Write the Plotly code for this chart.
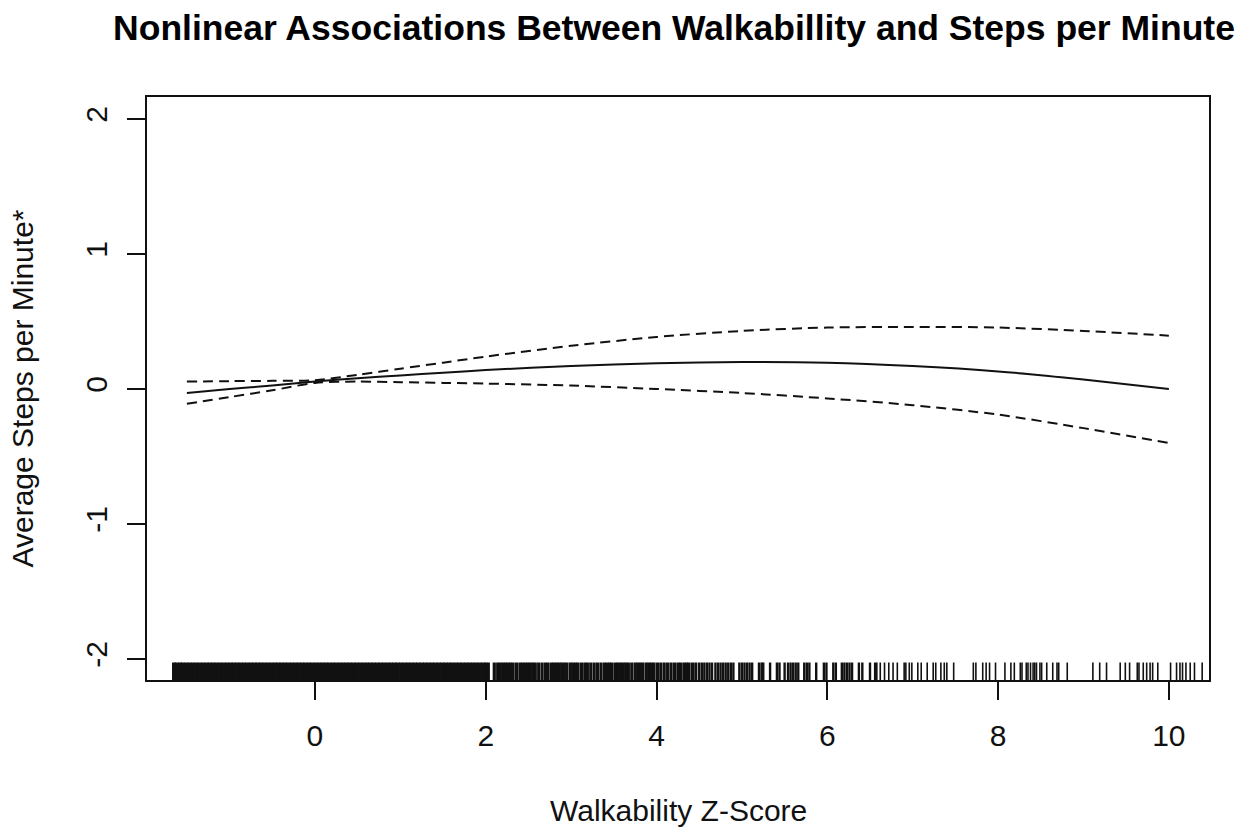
import plotly.graph_objects as go

# Smooth term: estimate and +/- 2 SE band over walkability z-score
x_fit = [-1.5, -1.0, -0.5, 0.0, 0.5, 1.0, 1.5, 2.0, 3.0, 4.0, 5.0, 6.0, 7.0, 8.0, 9.0, 10.0]
fit = [-0.03, 0.0, 0.025, 0.055, 0.08, 0.10, 0.12, 0.14, 0.17, 0.19, 0.20, 0.195, 0.17, 0.13, 0.07, 0.0]
upper = [0.055, 0.058, 0.06, 0.065, 0.105, 0.15, 0.195, 0.24, 0.32, 0.385, 0.43, 0.455, 0.46, 0.455, 0.43, 0.395]
lower = [-0.11, -0.06, -0.01, 0.045, 0.055, 0.05, 0.045, 0.04, 0.025, 0.0, -0.03, -0.07, -0.12, -0.19, -0.29, -0.40]

# Observed walkability values (rug), split by how crowded the axis is
rug_core = [-1.65, -1.62, -1.58, -1.55, -1.51, -1.47, -1.43, -1.39, -1.35, -1.31, -1.27, -1.23,
            -1.19, -1.15, -1.11, -1.07, -1.03, -0.99, -0.95, -0.91, -0.87, -0.83, -0.79, -0.75,
            -0.71, -0.67, -0.63, -0.59, -0.55, -0.51, -0.47, -0.43, -0.39, -0.35, -0.31, -0.27,
            -0.23, -0.19, -0.15, -0.11, -0.07, -0.03, 0.01, 0.05, 0.09, 0.13, 0.17, 0.21, 0.25,
            0.29, 0.33, 0.37, 0.41, 0.45, 0.49, 0.53, 0.57, 0.61, 0.65, 0.69, 0.73, 0.77, 0.81,
            0.85, 0.89, 0.93, 0.97, 1.01, 1.05, 1.09, 1.13, 1.17, 1.21, 1.25, 1.29, 1.33, 1.37,
            1.41, 1.45, 1.49, 1.53, 1.57, 1.61, 1.65, 1.69, 1.73, 1.77, 1.81, 1.85, 1.89, 1.93, 1.97]
rug_mid = [2.00, 2.03, 2.10, 2.14, 2.17, 2.20, 2.23, 2.26, 2.29, 2.32, 2.36, 2.40, 2.43, 2.46,
           2.49, 2.52, 2.55, 2.58, 2.62, 2.66, 2.70, 2.73, 2.77, 2.80, 2.83, 2.86, 2.89, 2.92,
           2.95, 2.99, 3.02, 3.05, 3.08, 3.12, 3.16, 3.19, 3.23, 3.27, 3.31, 3.35, 3.39, 3.42,
           3.45, 3.48, 3.52, 3.55, 3.58, 3.61, 3.64, 3.67, 3.71, 3.75, 3.78, 3.81, 3.84, 3.88,
           3.91, 3.94, 3.97, 4.01, 4.05, 4.09, 4.13, 4.17, 4.21, 4.25, 4.28, 4.32, 4.35, 4.38,
           4.42, 4.46]
rug_outer = [4.50, 4.53, 4.56, 4.59, 4.62, 4.65, 4.69, 4.72, 4.75, 4.78, 4.81, 4.84, 4.87, 4.90,
             4.97, 5.00, 5.03, 5.06, 5.09, 5.12, 5.20, 5.23, 5.25, 5.33, 5.41, 5.44, 5.50, 5.54,
             5.57, 5.60, 5.63, 5.66, 5.73, 5.76, 5.79, 5.87, 5.96, 5.99, 6.07, 6.10, 6.17, 6.20,
             6.23, 6.26, 6.29, 6.37, 6.41, 6.50, 6.56]
rug_sparse = [6.58, 6.62, 6.67, 6.72, 6.77, 6.82, 6.90, 6.92, 6.96, 6.99, 7.06, 7.10, 7.17, 7.24,
              7.27, 7.33, 7.37, 7.40, 7.48, 7.71, 7.74, 7.82, 7.86, 7.90, 7.97, 8.08, 8.15, 8.19,
              8.26, 8.28, 8.33, 8.35, 8.38, 8.41, 8.43, 8.45, 8.49, 8.51, 8.57, 8.64, 8.69, 8.71,
              8.81, 9.11, 9.19, 9.27, 9.43, 9.49, 9.54, 9.63, 9.65, 9.70, 9.74, 9.78, 9.81, 9.87,
              10.02, 10.09, 10.13, 10.16, 10.20, 10.25, 10.30, 10.39]

x_ticks = [0, 2, 4, 6, 8, 10]
y_ticks = [-2, -1, 0, 1, 2]
x_range = [-1.967, 10.47]
y_range = [-2.156, 2.163]

title_text = "Nonlinear Associations Between Walkabillity and Steps per Minute"
x_label = "Walkability Z-Score"
y_label = "Average Steps per Minute*"

INK = "#111111"
FONT = "Liberation Sans, Arial, Helvetica, sans-serif"


def rug_segments(values, y0, y1):
    xs, ys = [], []
    for v in values:
        xs += [v, v, None]
        ys += [y0, y1, None]
    return xs, ys


rug_bottom = y_range[0]
rug_top = y_range[0] + 0.03 * (y_range[1] - y_range[0])

fig = go.Figure()

for vals, w in [(rug_core, 4.2), (rug_mid, 3.2), (rug_outer, 2.4), (rug_sparse, 1.6)]:
    rx, ry = rug_segments(vals, rug_bottom, rug_top)
    fig.add_trace(go.Scatter(x=rx, y=ry, mode="lines", line=dict(color=INK, width=w),
                             hoverinfo="skip", showlegend=False, cliponaxis=True))

fig.add_trace(go.Scatter(x=x_fit, y=upper, mode="lines",
                         line=dict(color=INK, width=2, dash="10px,6px", shape="spline", smoothing=0.8),
                         showlegend=False))
fig.add_trace(go.Scatter(x=x_fit, y=lower, mode="lines",
                         line=dict(color=INK, width=2, dash="10px,6px", shape="spline", smoothing=0.8),
                         showlegend=False))
fig.add_trace(go.Scatter(x=x_fit, y=fit, mode="lines",
                         line=dict(color=INK, width=2, shape="spline", smoothing=0.8),
                         showlegend=False))

W, H = 1254, 830
ml, mr, mt, mb = 147, 45, 97, 150

fig.update_layout(
    width=W, height=H,
    margin=dict(l=ml, r=mr, t=mt, b=mb, pad=0),
    paper_bgcolor="white", plot_bgcolor="white",
    font=dict(family=FONT, size=30, color=INK),
    title=dict(text="<b>" + title_text + "</b>", x=674 / W, xanchor="center",
               xref="container", y=1 - 28 / H, yanchor="middle", yref="container",
               font=dict(family=FONT, size=35.5, color="black")),
    showlegend=False,
)

fig.update_xaxes(
    range=x_range, tickvals=x_ticks, ticktext=[str(t) for t in x_ticks],
    ticks="outside", ticklen=18, tickwidth=1.5, tickcolor=INK,
    showline=True, linecolor=INK, linewidth=1.5, mirror=True,
    showgrid=False, zeroline=False, ticklabelstandoff=10,
    tickfont=dict(family=FONT, size=30, color=INK),
)
fig.update_yaxes(
    range=y_range, tickvals=y_ticks, ticktext=[str(t) for t in y_ticks],
    ticks="outside", ticklen=18, tickwidth=1.5, tickcolor=INK,
    showline=True, linecolor=INK, linewidth=1.5, mirror=True,
    showgrid=False, zeroline=False, tickangle=-90, ticklabelstandoff=8,
    tickfont=dict(family=FONT, size=30, color=INK),
)

fig.add_annotation(text=x_label, xref="paper", yref="paper", x=0.5, y=0,
                   yshift=-(810 - 680), xanchor="center", yanchor="middle",
                   showarrow=False, font=dict(family=FONT, size=30, color=INK))
fig.add_annotation(text=y_label, xref="paper", yref="paper", x=0, y=0.5,
                   xshift=-(147 - 22), xanchor="center", yanchor="middle", textangle=-90,
                   showarrow=False, font=dict(family=FONT, size=30, color=INK))

fig.write_html("out.html")
